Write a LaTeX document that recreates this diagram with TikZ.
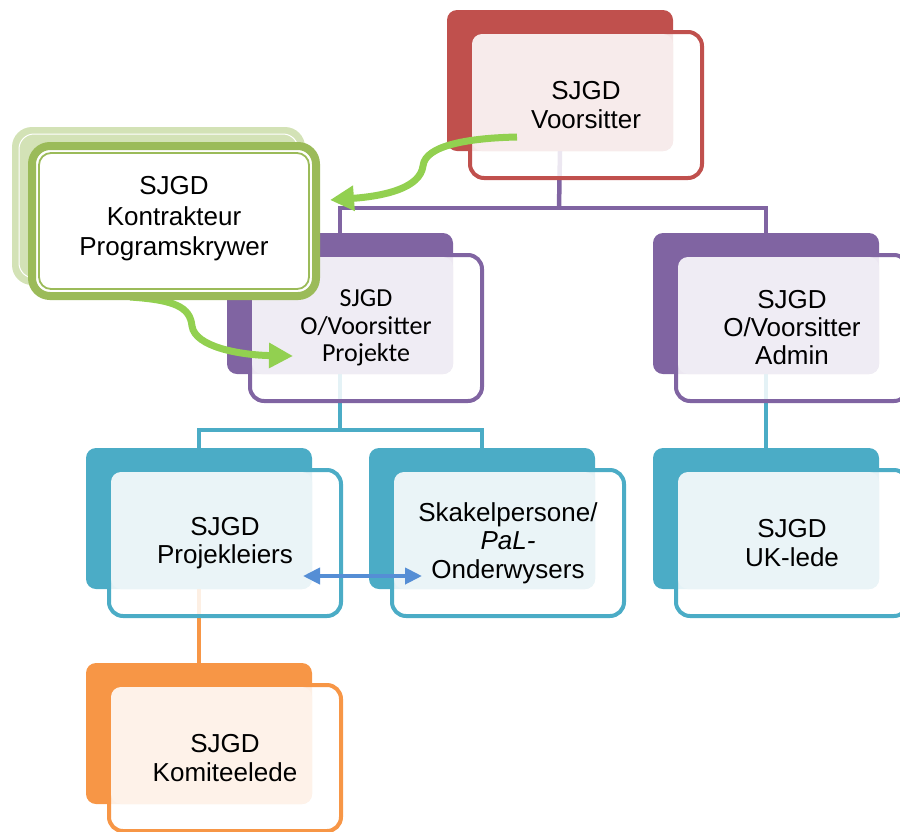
\documentclass[tikz,border=0pt]{standalone}
\usepackage{fontspec}
\setmainfont{Liberation Sans}
\newfontfamily\calibrifont{Carlito}
\usetikzlibrary{arrows.meta}
\definecolor{cRed}{HTML}{C0504D}
\definecolor{cRedT}{HTML}{F7EBEB}
\definecolor{cPur}{HTML}{8064A2}
\definecolor{cPurT}{HTML}{EFECF4}
\definecolor{cTeal}{HTML}{4BACC6}
\definecolor{cTealT}{HTML}{EAF4F7}
\definecolor{cOra}{HTML}{F79646}
\definecolor{cOraT}{HTML}{FEF2E9}
\definecolor{cGreenB}{HTML}{9BBB59}
\definecolor{cGreenL}{HTML}{D3E2B6}
\definecolor{cGreenA}{HTML}{92D050}
\definecolor{cBlue}{HTML}{558ED5}
\tikzset{
  backbox/.style={draw=none, fill=#1, rounded corners=10pt, minimum width=226pt, minimum height=141pt, inner sep=0pt, outer sep=0pt},
  framebox/.style={draw=#1, line width=4pt, fill=white, fill opacity=0.85, rounded corners=14pt, minimum width=232pt, minimum height=146pt, inner sep=0pt, outer sep=0pt},
  boxlabel/.style={align=center, font=\fontsize{26}{29}\selectfont, text=black, inner sep=0pt},
  conn/.style={draw=#1, line width=4.5pt},
  greenarrow/.style={draw=cGreenA, line width=7pt, -{Triangle[length=24pt,width=24pt]}},
  bluearrow/.style={draw=cBlue, line width=4pt, {Triangle[length=17pt,width=16pt]}-{Triangle[length=17pt,width=16pt]}},
}
\newcommand\BackBox[4]{\node[backbox=#4] (#1) at ({#2+113},{#3+70.5}) {};}
\newcommand\FrontBox[7]{%
  \node[framebox=#4] (#1f) at ({#2+139},{#3+95}) {};
  \fill[#5, rounded corners=10pt] ({#2+25},{#3+24}) rectangle ({#2+226},{#3+141});
  \node[boxlabel, font=#7] (#1) at ({#2+139},{#3+95}) {#6};
}
\begin{document}
\begin{tikzpicture}[x=1pt, y=-1pt]
\useasboundingbox (0,0) rectangle (900,831);
\clip (0,0) rectangle (900,831);
% back boxes
\BackBox{topb}{447}{10}{cRed}
\BackBox{pab}{227}{233}{cPur}
\BackBox{pbb}{653}{233}{cPur}
\BackBox{tab}{86}{448}{cTeal}
\BackBox{tbb}{369}{448}{cTeal}
\BackBox{tcb}{653}{448}{cTeal}
\BackBox{ob}{86}{663}{cOra}
% connectors
\coordinate (pj) at (559,208);
\coordinate (tj) at (340,430);
\draw[conn=cPur] (topb.south) -- (pj);
\draw[conn=cPur] (pab.north) |- (pj) -| (pbb.north);
\draw[conn=cTeal] (pab.south) -- (tj);
\draw[conn=cTeal] (tab.north) |- (tj) -| (tbb.north);
\draw[conn=cTeal] (pbb.south) -- (tcb.north);
\draw[conn=cOra] (tab.south) -- (ob.north);
% front boxes
\FrontBox{top}{447}{10}{cRed}{cRedT}{SJGD\\Voorsitter}{\fontsize{26}{29}\selectfont}
\FrontBox{pa}{227}{233}{cPur}{cPurT}{SJGD\\O/Voorsitter\\Projekte}{\calibrifont\fontsize{26}{27.5}\selectfont}
\FrontBox{pb}{653}{233}{cPur}{cPurT}{SJGD\\O/Voorsitter\\Admin}{\fontsize{26}{28}\selectfont}
\FrontBox{ta}{86}{448}{cTeal}{cTealT}{SJGD\\Projekleiers}{\fontsize{26}{28.5}\selectfont}
\FrontBox{tb}{369}{448}{cTeal}{cTealT}{Skakelpersone/\\\textit{PaL-}\\Onderwysers}{\fontsize{26}{28.5}\selectfont}
\FrontBox{tc}{653}{448}{cTeal}{cTealT}{SJGD\\UK-lede}{\fontsize{26}{28.5}\selectfont}
\FrontBox{o}{86}{663}{cOra}{cOraT}{SJGD\\Komiteelede}{\fontsize{26}{28.5}\selectfont}
% blue double arrow
\coordinate (bl) at (303,576);
\coordinate (br) at (422,576);
\draw[bluearrow] (bl) -- (br);
% green arrows
\coordinate (g1s) at (517,137);
\coordinate (g1e) at (330,200);
\draw[greenarrow] (g1s) .. controls (470,138) and (425,145) .. (423,166) .. controls (420,188) and (385,196) .. (g1e);
\coordinate (g2s) at (130,297);
\coordinate (g2e) at (293,356);
\draw[greenarrow] (g2s) .. controls (175,300) and (190,307) .. (192,326) .. controls (195,347) and (240,355) .. (g2e);
% Kontrakteur box
\fill[cGreenL, rounded corners=20pt] (12,127) rectangle (305,285);
\draw[white, line width=1pt, rounded corners=15pt] (19,134) rectangle (298,278);
\node[draw=cGreenB, line width=8pt, fill=white, rounded corners=18pt, minimum width=284pt, minimum height=150pt, inner sep=0pt] (kf) at (174,221) {};
\draw[cGreenB, line width=1.8pt, rounded corners=12pt] (39,153) rectangle (309,289);
\node[boxlabel, font=\fontsize{26}{30.5}\selectfont] (k) at (174,219) {SJGD\\Kontrakteur\\Programskrywer};
\end{tikzpicture}
\end{document}
